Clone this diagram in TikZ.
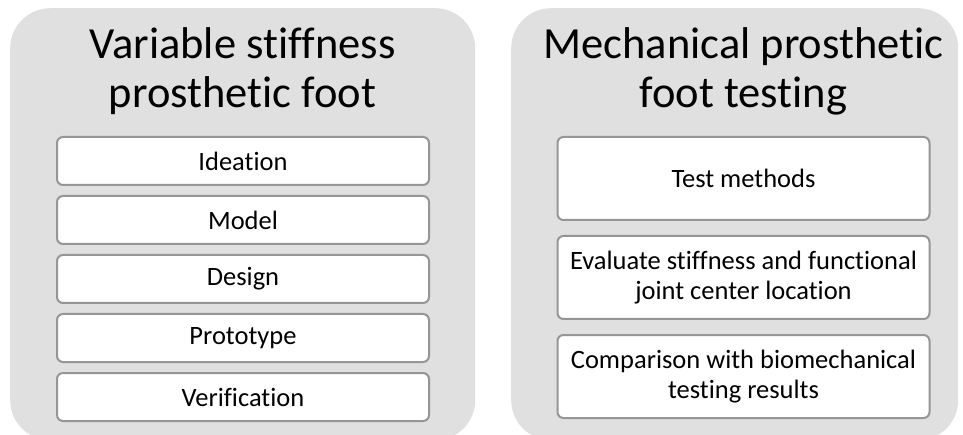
\documentclass[tikz,border=0pt]{standalone}
\usepackage{fontspec}
\setmainfont{Carlito}[Ligatures=NoCommon]
\usepackage{xcolor}
\usepackage{tikz}
\usetikzlibrary{
  positioning
}
\definecolor{panelgray}{RGB}{224,224,224}
\definecolor{boxgray}{RGB}{150,150,150}

\begin{document}
\begin{tikzpicture}[
    x=1pt, y=-1pt,
    node distance=9pt,
    panel/.style={
      fill=panelgray,
      rounded corners=40pt,
      inner sep=0pt,
      minimum width=465pt,
      minimum height=432pt
    },
    headline/.style={
      align=center,
      anchor=base,
      font=\fontsize{44.5}{49}\selectfont
    },
    stagebox/.style={
      draw=boxgray,
      fill=white,
      line width=2pt,
      rounded corners=6pt,
      align=center,
      inner sep=0pt,
      minimum width=372pt,
      minimum height=48pt,
      font=\fontsize{26.5}{30}\selectfont
    },
    testbox/.style={stagebox, minimum height=83pt}
  ]
    \useasboundingbox (0,0) rectangle (963,435);

    % two grey panels
    \node[panel, anchor=north west] (leftpanel) at (10,8) {};
    \node[panel, anchor=north west, minimum width=447pt] (rightpanel) at (511,8) {};

    % panel titles (base = last line)
    \node[headline] (lefttitle) at (242.5,108) {Variable stiffness\\prosthetic foot};
    \node[headline] (righttitle) at (743.5,108) {Mechanical prosthetic\\foot testing};

    % left stack: design stages
    \node[stagebox] (ideation) at (243,161) {Ideation};
    \node[stagebox, below=of ideation] (model) {Model};
    \node[stagebox, below=of model] (design) {Design};
    \node[stagebox, below=of design] (prototype) {Prototype};
    \node[stagebox, below=of prototype] (verification) {Verification};

    % right stack: testing steps
    \node[testbox] (methods) at (743.5,178.5) {Test methods};
    \node[testbox, below=14pt of methods] (evaluate)
      {Evaluate stiffness and functional\\joint center location};
    \node[testbox, below=14pt of evaluate] (comparison)
      {Comparison with biomechanical\\testing results};

  \end{tikzpicture}
\end{document}
